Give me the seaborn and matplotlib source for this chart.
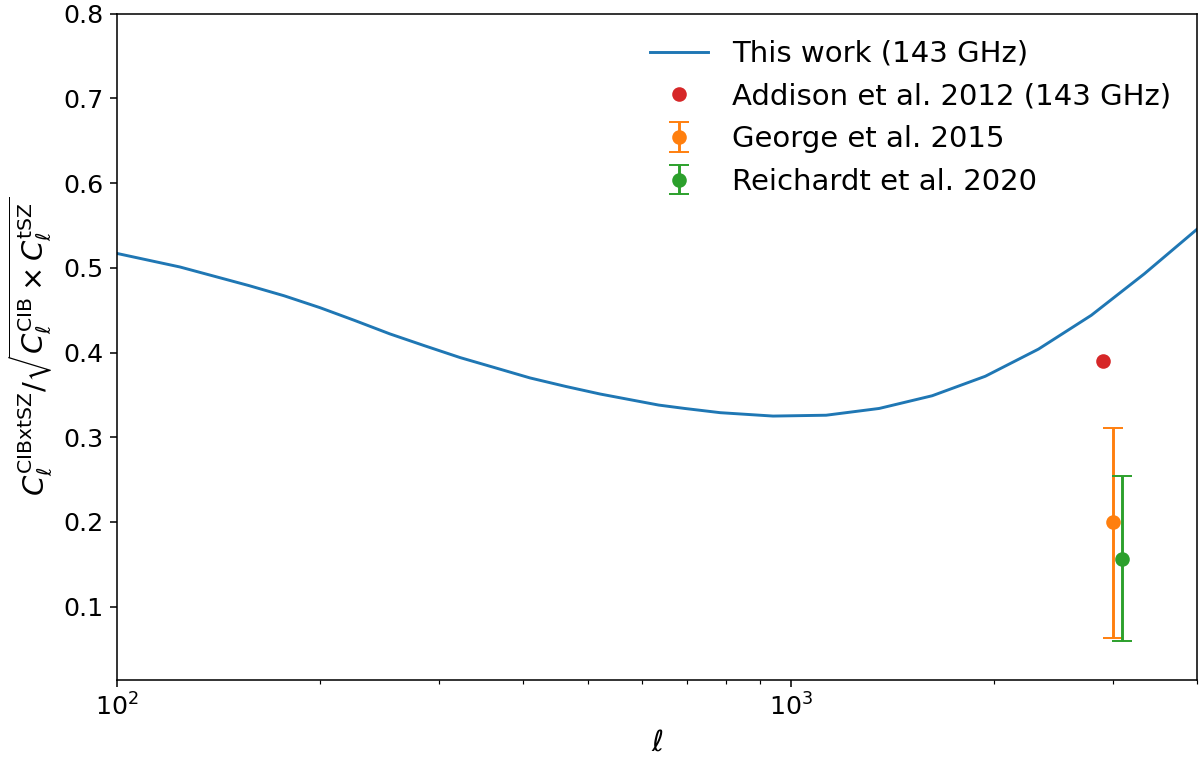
import numpy as np
import matplotlib
matplotlib.use("Agg")
import matplotlib.pyplot as plt
import seaborn as sns

# model curve
ell_model = [100, 124, 157, 177, 200, 225, 254, 286, 323, 364, 410, 463, 521,
             636, 695, 785, 940, 1127, 1351, 1619, 1941, 2327, 2788, 3342, 4006]
ratio_model = [0.517, 0.501, 0.479, 0.467, 0.453, 0.438, 0.422, 0.408, 0.394,
               0.382, 0.370, 0.360, 0.351, 0.338, 0.334, 0.329, 0.325, 0.326,
               0.334, 0.349, 0.372, 0.404, 0.444, 0.493, 0.546]

# measurements
addison_ell = [2900]
addison_val = [0.390]

george_ell = [3000]
george_val = [0.200]
george_lo = [0.137]
george_hi = [0.111]

reich_ell = [3100]
reich_val = [0.156]
reich_lo = [0.096]
reich_hi = [0.098]

fig = plt.figure(figsize=(12 / 1.4, 7.63 / 1.4), dpi=140)
ax = fig.add_axes([0.0975, 0.109, 0.9, 0.873])

sns.lineplot(x=ell_model, y=ratio_model, ax=ax, color='tab:blue', linewidth=1.5,
             label='This work (143 GHz)')
ax.plot(addison_ell, addison_val, 'o', color='tab:red', markersize=6.5,
        label='Addison et al. 2012 (143 GHz)')
ax.errorbar(george_ell, george_val, yerr=[george_lo, george_hi], fmt='o',
            color='tab:orange', markersize=6.5, capsize=5,
            label='George et al. 2015')
ax.errorbar(reich_ell, reich_val, yerr=[reich_lo, reich_hi], fmt='o',
            color='tab:green', markersize=6.5, capsize=5,
            label='Reichardt et al. 2020')

ax.set_xscale('log')
ax.set_xlim(100, 4000)
ax.set_ylim(0.0136, 0.8)
ax.set_yticks([0.1, 0.2, 0.3, 0.4, 0.5, 0.6, 0.7, 0.8])
ax.tick_params(labelsize=13)
ax.set_xlabel(r'$\ell$', fontsize=15)
ax.set_ylabel(r'$C_\ell^{\rm CIBxtSZ}/\sqrt{C_\ell^{\rm CIB}\times C_\ell^{\rm tSZ}}$',
              fontsize=15)
ax.legend(loc='upper right', frameon=False, fontsize=15)

fig.savefig('out.png', dpi=140)
